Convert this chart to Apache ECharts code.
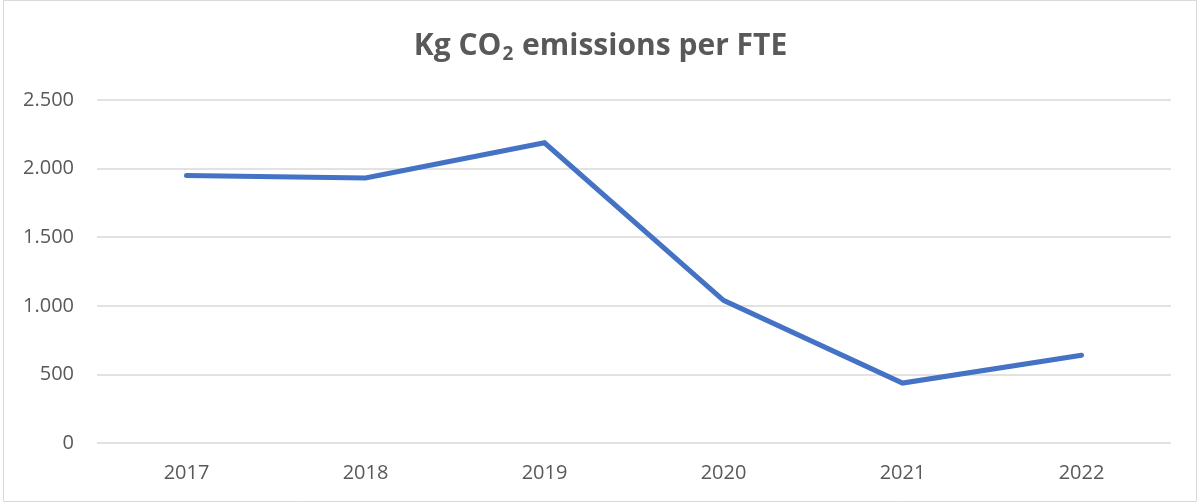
<!DOCTYPE html>
<html>
<head>
<meta charset="utf-8">
<script src="https://cdn.jsdelivr.net/npm/echarts@6/dist/echarts.min.js"></script>
<style>
  html, body { margin: 0; padding: 0; background: #fff; }
  #chart { width: 1201px; height: 503px; }
</style>
</head>
<body>
<div id="chart"></div>
<script>
const years = ["2017", "2018", "2019", "2020", "2021", "2022"];
const emissions = [1950, 1932, 2188, 1040, 437, 640];
const yTicks = [0, 500, 1000, 1500, 2000, 2500];

const chart = echarts.init(document.getElementById("chart"));
// thousands separator is a dot
const fmt = (v) => String(v).replace(/\B(?=(\d{3})+(?!\d))/g, ".");

chart.setOption({
  animation: false,
  graphic: [{
    type: "rect",
    shape: { x: 3.5, y: 0.5, width: 1193, height: 501 },
    style: { fill: "none", stroke: "#d9d9d9", lineWidth: 1 },
    silent: true
  }],
  title: {
    text: "{a|Kg CO}{s|2}{a| emissions per FTE}",
    left: "center",
    top: 24,
    textStyle: {
      fontSize: 30,
      fontWeight: "bold",
      fontFamily: "Open Sans",
      color: "#595959",
      rich: {
        a: { fontFamily: "Open Sans", fontWeight: "bold", fontSize: 30, color: "#595959" },
        s: { fontFamily: "Open Sans", fontWeight: "bold", fontSize: 19, color: "#595959", padding: [16, 1, 0, 1] }
      }
    }
  },
  grid: { left: 97, right: 30, top: 100, bottom: 60 },
  xAxis: {
    type: "category",
    data: years,
    boundaryGap: true,
    axisLine: { show: false },
    axisTick: { show: false },
    axisLabel: { color: "#595959", fontSize: 20, fontFamily: "Open Sans", margin: 20 }
  },
  yAxis: {
    type: "value",
    min: yTicks[0],
    max: yTicks[yTicks.length - 1],
    interval: 500,
    axisLine: { show: false },
    axisTick: { show: false },
    splitLine: { lineStyle: { color: "#d9d9d9", width: 1.5 } },
    axisLabel: { color: "#595959", fontSize: 20, fontFamily: "Open Sans", margin: 23, formatter: fmt }
  },
  series: [{
    type: "line",
    data: emissions,
    symbol: "none",
    lineStyle: { color: "#4472c4", width: 5, cap: "round", join: "miter" }
  }]
});
</script>
</body>
</html>
